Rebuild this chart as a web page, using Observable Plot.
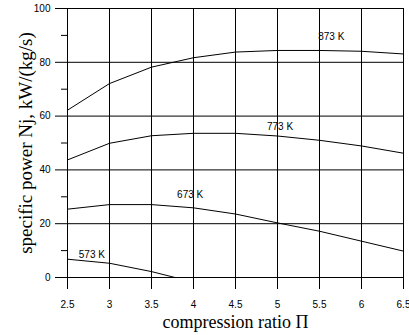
<!DOCTYPE html>
<html>
<head>
<meta charset="utf-8">
<script src="https://cdn.jsdelivr.net/npm/d3@7"></script>
<script src="https://cdn.jsdelivr.net/npm/@observablehq/plot@0.6"></script>
<style>
  html, body { margin: 0; padding: 0; background: white; }
</style>
</head>
<body>
<div id="chart"></div>
<script>
// compression ratio values
const ratio = [2.5, 3, 3.5, 4, 4.5, 5, 5.5, 6, 6.5];
// specific power, kW/(kg/s)
const power873 = [62.2, 72.1, 78.2, 81.7, 83.8, 84.4, 84.4, 84.1, 83.1];
const power773 = [43.7, 49.9, 52.7, 53.6, 53.6, 52.6, 51.0, 48.9, 46.2];
const power673 = [25.4, 27.1, 27.1, 25.9, 23.6, 20.3, 17.2, 13.5, 9.8];
const ratio573 = [2.5, 3, 3.5, 3.78];
const power573 = [6.8, 5.3, 2.2, 0];

const seriesNames = ["873 K", "773 K", "673 K", "573 K"];
const labelX = [5.64, 5.03, 3.96, 2.79];
const labelY = [89.3, 55.9, 30.6, 8.5];

const xTicks = [2.5, 3, 3.5, 4, 4.5, 5, 5.5, 6, 6.5];
const yTicks = [0, 20, 40, 60, 80, 100];
const yMinorTicks = [10, 30, 50, 70, 90];

const xTitle = "compression ratio \u03A0";
const yTitle = "specific power Nj, kW/(kg/s)";

const rows = [];
ratio.forEach((r, i) => rows.push({pi: r, p: power873[i], s: seriesNames[0]}));
ratio.forEach((r, i) => rows.push({pi: r, p: power773[i], s: seriesNames[1]}));
ratio.forEach((r, i) => rows.push({pi: r, p: power673[i], s: seriesNames[2]}));
ratio573.forEach((r, i) => rows.push({pi: r, p: power573[i], s: seriesNames[3]}));

const labels = seriesNames.map((t, i) => ({t, x: labelX[i], y: labelY[i]}));

const chart = Plot.plot({
  width: 409,
  height: 335,
  marginLeft: 67,
  marginRight: 6,
  marginTop: 8,
  marginBottom: 58,
  x: {domain: [2.5, 6.5]},
  y: {domain: [0, 100]},
  style: {
    fontFamily: "'Liberation Sans', Arial, sans-serif",
    fontSize: "10px",
    color: "black",
    background: "white"
  },
  marks: [
    Plot.gridX(xTicks, {stroke: "black", strokeOpacity: 1}),
    Plot.gridY(yTicks, {stroke: "black", strokeOpacity: 1}),
    Plot.axisX(xTicks, {tickSize: 12, tickPadding: 11, tickFormat: d => String(d), label: null, stroke: "black"}),
    Plot.axisY(yTicks, {tickSize: 12, tickPadding: 5, label: null, stroke: "black"}),
    Plot.axisY(yMinorTicks, {tickSize: 6, tickFormat: () => "", label: null, stroke: "black"}),
    Plot.line(rows, {x: "pi", y: "p", z: "s", stroke: "black", strokeWidth: 1}),
    Plot.text(labels, {x: "x", y: "y", text: "t", fill: "black", fontSize: 10}),
    Plot.text([xTitle], {frameAnchor: "bottom", textAnchor: "middle", lineAnchor: "bottom", dy: 50, text: d => d,
      fontFamily: "'Liberation Serif', 'Times New Roman', serif", fontSize: 18, fill: "black"}),
    Plot.text([yTitle], {frameAnchor: "left", textAnchor: "middle", rotate: -90, dx: -42, text: d => d,
      fontFamily: "'Liberation Serif', 'Times New Roman', serif", fontSize: 19, fill: "black"})
  ]
});
document.getElementById("chart").appendChild(chart);
</script>
</body>
</html>
